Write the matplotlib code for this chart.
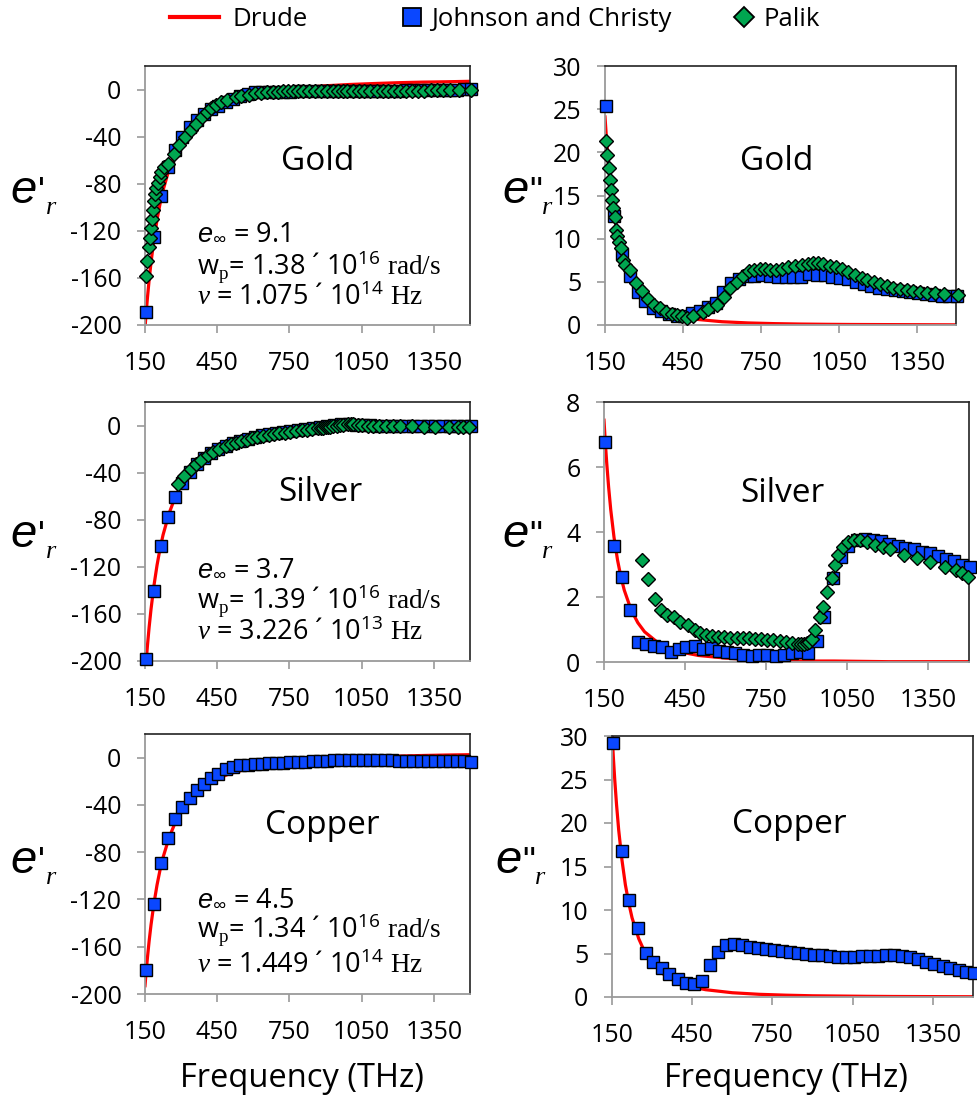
"""
Drude model vs Johnson & Christy / Palik permittivity data for gold, silver and copper
"""

import matplotlib
matplotlib.use("Agg")
import matplotlib.pyplot as plt
from matplotlib.lines import Line2D

plt.rcParams['font.family'] = ['Open Sans', 'DejaVu Sans']
plt.rcParams['axes.unicode_minus'] = False
plt.rcParams['mathtext.fontset'] = 'custom'
plt.rcParams['mathtext.rm'] = 'Open Sans'
plt.rcParams['mathtext.it'] = 'Liberation Sans:italic'
plt.rcParams['mathtext.sf'] = 'Liberation Serif'
plt.rcParams['mathtext.cal'] = 'Liberation Serif:italic'

# ---- data (frequency in THz) ----
drude_freq = [150, 155, 160, 167, 175, 187, 200, 212, 225, 250, 275, 300, 350, 400, 450,
              500, 600, 700, 800, 900, 1000, 1100, 1200, 1300, 1400, 1500]
gold_drude_re = [-202.5, -189.3, -177.2, -162.1, -146.9, -127.7, -110.6, -97.5, -85.6, -67.7,
                 -54.4, -44.3, -30.2, -21.0, -14.7, -10.2, -4.3, -0.7, 1.6, 3.2, 4.3, 5.1,
                 5.8, 6.3, 6.6, 7.0]
gold_drude_im = [24.1, 21.9, 19.9, 17.5, 15.3, 12.5, 10.2, 8.6, 7.2, 5.26, 3.95, 3.05, 1.92,
                 1.29, 0.90, 0.66, 0.38, 0.24, 0.16, 0.11, 0.08, 0.06, 0.05, 0.04, 0.03, 0.02]
silver_drude_re = [-213.5, -199.8, -187.3, -171.6, -156.0, -136.2, -118.6, -105.1, -92.9,
                   -74.6, -61.0, -50.7, -36.2, -26.9, -20.5, -15.9, -9.9, -6.3, -3.9, -2.3,
                   -1.2, -0.3, 0.3, 0.8, 1.2, 1.5]
silver_drude_im = [7.44, 6.74, 6.13, 5.39, 4.68, 3.84, 3.14, 2.64, 2.21, 1.61, 1.21, 0.93,
                   0.59, 0.39, 0.28, 0.20, 0.12, 0.07, 0.05, 0.03, 0.03, 0.02, 0.01, 0.01,
                   0.01, 0.01]
copper_drude_re = [-193.0, -180.7, -169.6, -155.5, -141.5, -123.6, -107.7, -95.5, -84.4,
                   -67.7, -55.2, -45.7, -32.5, -23.8, -17.9, -13.7, -8.1, -4.8, -2.6, -1.1,
                   -0.1, 0.7, 1.3, 1.8, 2.2, 2.5]
copper_drude_im = [30.4, 27.6, 25.1, 22.1, 19.2, 15.8, 12.9, 10.9, 9.1, 6.7, 5.0, 3.9, 2.4,
                   1.6, 1.15, 0.84, 0.49, 0.31, 0.21, 0.14, 0.11, 0.08, 0.06, 0.05, 0.04, 0.03]

jc_freq = [155, 186, 215, 247, 276, 305, 336, 365, 397, 426, 455, 486, 515, 546, 576, 605,
           636, 665, 696, 725, 754, 786, 815, 846, 875, 904, 936, 965, 996, 1025, 1054, 1086,
           1115, 1146, 1175, 1204, 1236, 1265, 1296, 1325, 1354, 1386, 1415, 1446, 1475, 1504]
gold_jc_re = [-189.0, -125.3, -90.4, -66.2, -51.0, -40.3, -32.0, -25.8, -20.6, -16.8, -13.6,
              -10.7, -8.1, -5.8, -4.0, -2.3, -1.7, -1.8, -1.7, -1.7, -1.7, -1.6, -1.4, -1.2,
              -1.3, -1.4, -1.2, -1.2, -1.2, -1.3, -1.3, -1.4, -1.3, -1.2, -1.1, -0.9, -0.7,
              -0.6, -0.6, -0.4, -0.4, -0.2, -0.1, 0.0, 0.1, 0.2]
gold_jc_im = [25.4, 12.6, 8.2, 5.7, 3.86, 2.79, 1.93, 1.63, 1.27, 1.07, 1.04, 1.37, 1.66,
              2.11, 2.58, 3.81, 4.84, 5.28, 5.65, 5.72, 5.74, 5.64, 5.61, 5.60, 5.54, 5.57,
              5.85, 5.79, 5.78, 5.60, 5.49, 5.28, 4.98, 4.72, 4.49, 4.34, 4.16, 4.06, 3.89,
              3.83, 3.71, 3.61, 3.51, 3.39, 3.40, 3.33]
silver_jc_re = [-198.2, -140.4, -102.0, -77.9, -60.8, -48.9, -39.8, -32.8, -27.5, -23.4,
                -20.1, -17.2, -14.9, -12.9, -11.1, -9.6, -8.2, -7.1, -6.1, -5.2, -4.3, -3.5,
                -2.7, -2.0, -1.3, -0.7, 0.5, 0.9, 0.9, 0.6, 0.4, 0.2, 0.0, -0.1, -0.2, -0.2,
                -0.2, -0.2, -0.2, -0.2, -0.2, -0.3, -0.3, -0.3, -0.4, -0.3]
silver_jc_im = [6.76, 3.56, 2.63, 1.59, 0.62, 0.56, 0.50, 0.46, 0.31, 0.39, 0.45, 0.50, 0.39,
                0.43, 0.33, 0.31, 0.29, 0.21, 0.20, 0.23, 0.21, 0.19, 0.23, 0.28, 0.32, 0.28,
                0.64, 1.39, 2.58, 3.23, 3.56, 3.75, 3.79, 3.74, 3.71, 3.64, 3.58, 3.50, 3.47,
                3.39, 3.36, 3.26, 3.18, 3.10, 2.98, 2.91]
copper_jc_re = [-180.0, -124.0, -89.0, -68.0, -52.0, -42.0, -34.0, -27.0, -22.0, -17.5,
                -13.5, -10.0, -7.5, -6.5, -6.0, -5.6, -5.2, -4.9, -4.6, -4.3, -4.0, -3.7,
                -3.4, -3.1, -2.9, -2.6, -2.4, -2.2, -2.0, -1.9, -1.8, -1.9, -2.0, -2.2, -2.4,
                -2.6, -2.8, -2.9, -3.0, -3.0, -3.0, -3.1, -3.1, -3.2, -3.2, -3.3]
copper_jc_im = [29.2, 16.8, 11.2, 7.9, 5.1, 4.0, 3.35, 2.6, 2.05, 1.6, 1.45, 1.8, 3.7, 5.2,
                5.95, 6.1, 6.0, 5.8, 5.6, 5.5, 5.4, 5.3, 5.2, 5.05, 4.9, 4.8, 4.8, 4.7, 4.6,
                4.55, 4.6, 4.7, 4.75, 4.75, 4.85, 4.85, 4.75, 4.55, 4.35, 4.05, 3.8, 3.55,
                3.3, 3.1, 2.9, 2.75]

gold_palik_freq = [154, 159, 165, 169, 173, 177, 182, 187, 192, 197, 204, 212, 218, 227, 246,
                   269, 291, 317, 340, 362, 385, 407, 426, 446, 467, 490, 528, 548, 580, 606,
                   632, 657, 680, 702, 722, 745, 765, 785, 808, 830, 855, 881, 907, 932, 951,
                   971, 990, 1015, 1038, 1060, 1086, 1112, 1137, 1159, 1185, 1208, 1233, 1259,
                   1285, 1310, 1336, 1362, 1387, 1419, 1454, 1506]
gold_palik_re = [-158, -146, -134, -126, -118, -110, -102, -95, -89, -84, -79, -74, -70, -66,
                 -63, -55, -47, -40, -34, -29, -23, -19, -16, -13, -10.5, -9, -6.5, -5.5,
                 -4.3, -3.3, -2.6, -2.2, -1.9, -1.7, -1.6, -1.6, -1.6, -1.6, -1.6, -1.6, -1.6,
                 -1.6, -1.6, -1.5, -1.5, -1.5, -1.5, -1.5, -1.5, -1.5, -1.5, -1.4, -1.4, -1.3,
                 -1.3, -1.2, -1.1, -1.0, -0.9, -0.9, -0.8, -0.7, -0.6, -0.5, -0.4, -0.3]
gold_palik_im = [21.3, 19.7, 18.2, 16.8, 15.6, 14.5, 13.6, 12.5, 11.0, 10.3, 9.65, 8.9, 7.5,
                 6.95, 6.4, 4.9, 3.9, 3.0, 2.3, 1.93, 1.54, 1.27, 1.16, 1.04, 0.85, 1.0, 1.54,
                 1.8, 2.3, 3.3, 4.3, 5.0, 5.7, 6.2, 6.4, 6.45, 6.45, 6.4, 6.4, 6.45, 6.68,
                 6.83, 6.95, 7.07, 7.2, 7.14, 7.07, 6.83, 6.68, 6.45, 6.18, 5.79, 5.48, 5.21,
                 4.94, 4.71, 4.52, 4.32, 4.17, 4.05, 3.94, 3.82, 3.75, 3.67, 3.59, 3.44]

silver_palik_freq = [289, 314, 339, 361, 382, 410, 432, 459, 485, 506, 528, 548, 573, 594,
                     616, 641, 663, 686, 708, 731, 754, 776, 801, 823, 845, 869, 880, 890,
                     900, 910, 918, 930, 949, 959, 974, 993, 1004, 1016, 1035, 1053, 1075,
                     1097, 1121, 1152, 1181, 1208, 1259, 1309, 1356, 1411, 1452, 1473, 1497]
silver_palik_re = [-50, -43, -37, -32.5, -29, -25, -22.5, -20, -17.5, -16, -14.5, -13.3, -12,
                   -11, -10, -9, -8.2, -7.4, -6.7, -6, -5.4, -4.8, -4.2, -3.6, -3.1, -2.5,
                   -2.2, -1.9, -1.6, -1.3, -1.0, -0.6, 0.0, 0.4, 0.8, 1.0, 1.0, 0.9, 0.6, 0.3,
                   0.0, -0.2, -0.4, -0.5, -0.6, -0.7, -0.8, -0.9, -1.0, -1.1, -1.2, -1.2, -1.3]
silver_palik_im = [3.14, 2.54, 1.94, 1.6, 1.45, 1.37, 1.24, 1.14, 0.98, 0.88, 0.83, 0.79,
                   0.77, 0.76, 0.75, 0.75, 0.74, 0.73, 0.72, 0.71, 0.69, 0.67, 0.64, 0.61,
                   0.59, 0.56, 0.55, 0.55, 0.57, 0.62, 0.72, 0.98, 1.39, 1.7, 2.16, 2.57, 2.98,
                   3.29, 3.55, 3.7, 3.75, 3.75, 3.7, 3.6, 3.55, 3.47, 3.3, 3.19, 3.07, 2.93,
                   2.82, 2.73, 2.63]

x_ticks = [150, 450, 750, 1050, 1350]
re_ticks = [0, -40, -80, -120, -160, -200]

W, H = 978, 1101
RED = '#ff0000'
BLUE = '#0a47ff'
GREEN = '#00a650'
GREY = '#9a9a9a'


def box(l, t, r, b):
    return [l / W, 1 - b / H, (r - l) / W, (b - t) / H]


def fpx(x, y):
    return x / W, 1 - y / H


def style_axes(ax, ylim, yticks):
    ax.set_xlim(150, 1500)
    ax.set_ylim(*ylim)
    ax.set_xticks(x_ticks)
    ax.set_yticks(yticks)
    for side in ['left', 'bottom']:
        ax.spines[side].set_color(GREY)
        ax.spines[side].set_linewidth(1.3)
    for side in ['top', 'right']:
        ax.spines[side].set_color('#222222')
        ax.spines[side].set_linewidth(1.2)
    ax.tick_params(direction='out', length=6, width=1.2, color=GREY, labelsize=18)
    ax.tick_params(axis='x', pad=13)
    ax.tick_params(axis='y', pad=11)


def draw_panel(ax, drude, jc, palik=None, palik_freq=None):
    ax.plot(drude_freq, drude, color=RED, lw=2.3, zorder=2)
    ax.plot(jc_freq, jc, ls='none', marker='s', ms=8.5, mfc=BLUE, mec='black',
            mew=1.0, clip_on=False, zorder=3)
    if palik is not None:
        ax.plot(palik_freq, palik, ls='none', marker='D', ms=7, mfc=GREEN, mec='black',
                mew=1.0, clip_on=False, zorder=4)


def ylab(x_e, base, double):
    # e'_r  /  e''_r label, drawn as pieces like the original
    fig.text(*fpx(x_e, base), 'e', fontsize=34, family='Liberation Sans', style='italic',
             ha='left', va='baseline')
    mark = '"' if double else "'"
    dx_mark = 27 if double else 28
    dx_r = 40 if double else 36
    fig.text(*fpx(x_e + dx_mark, base), mark, fontsize=26, family='Liberation Sans',
             ha='left', va='baseline')
    fig.text(*fpx(x_e + dx_r, base + 11), 'r', fontsize=19, family='Liberation Serif',
             style='italic', ha='left', va='baseline')


def params_text(ax, ypos, e_inf, wp, nu, nu_exp):
    lines = [r"$\mathit{e}_{\infty}$ = " + e_inf,
             r"w$_{\mathsf{p}}$= " + wp + r" ´ 10$^{16}$ $\mathsf{rad/s}$",
             r"$\mathcal{v}$ = " + nu + r" ´ 10$^{" + nu_exp + r"}$ $\mathsf{Hz}$"]
    for txt, y in zip(lines, ypos):
        ax.text(0.16, y, txt, transform=ax.transAxes, fontsize=19.5, ha='left', va='center')


fig = plt.figure(figsize=(W / 100, H / 100), dpi=100)

panels = {
    'gold_re': box(145, 66, 470, 325),
    'gold_im': box(605, 66, 956, 325),
    'silver_re': box(145, 402, 470, 661),
    'silver_im': box(604, 402, 969, 662),
    'copper_re': box(145, 734, 470, 994),
    'copper_im': box(612, 736, 973, 997),
}

# gold
ax = fig.add_axes(panels['gold_re'])
draw_panel(ax, gold_drude_re, gold_jc_re, gold_palik_re, gold_palik_freq)
style_axes(ax, (-200, 20), re_ticks)
ax.text(0.53, 0.63, 'Gold', transform=ax.transAxes, fontsize=24, ha='center', va='center')
params_text(ax, [0.36, 0.225, 0.105], '9.1', '1.38', '1.075', '14')

ax = fig.add_axes(panels['gold_im'])
draw_panel(ax, gold_drude_im, gold_jc_im, gold_palik_im, gold_palik_freq)
style_axes(ax, (0, 30), [0, 5, 10, 15, 20, 25, 30])
ax.text(0.49, 0.63, 'Gold', transform=ax.transAxes, fontsize=24, ha='center', va='center')

# silver
ax = fig.add_axes(panels['silver_re'])
draw_panel(ax, silver_drude_re, silver_jc_re, silver_palik_re, silver_palik_freq)
style_axes(ax, (-200, 20), re_ticks)
ax.text(0.54, 0.65, 'Silver', transform=ax.transAxes, fontsize=24, ha='center', va='center')
params_text(ax, [0.363, 0.235, 0.108], '3.7', '1.39', '3.226', '13')

ax = fig.add_axes(panels['silver_im'])
draw_panel(ax, silver_drude_im, silver_jc_im, silver_palik_im, silver_palik_freq)
style_axes(ax, (0, 8), [0, 2, 4, 6, 8])
ax.text(0.49, 0.65, 'Silver', transform=ax.transAxes, fontsize=24, ha='center', va='center')

# copper
ax = fig.add_axes(panels['copper_re'])
draw_panel(ax, copper_drude_re, copper_jc_re)
style_axes(ax, (-200, 20), re_ticks)
ax.text(0.545, 0.65, 'Copper', transform=ax.transAxes, fontsize=24, ha='center', va='center')
params_text(ax, [0.37, 0.246, 0.11], '4.5', '1.34', '1.449', '14')
ax.set_xlabel('Frequency (THz)', fontsize=23.5, va='top')
ax.xaxis.set_label_coords(*fpx(302, 1062), transform=fig.transFigure)

ax = fig.add_axes(panels['copper_im'])
draw_panel(ax, copper_drude_im, copper_jc_im)
style_axes(ax, (0, 30), [0, 5, 10, 15, 20, 25, 30])
ax.text(0.49, 0.66, 'Copper', transform=ax.transAxes, fontsize=24, ha='center', va='center')
ax.set_xlabel('Frequency (THz)', fontsize=23.5, va='top')
ax.xaxis.set_label_coords(*fpx(786, 1062), transform=fig.transFigure)

# y labels
ylab(10, 203, False)
ylab(502, 203, True)
ylab(10, 547, False)
ylab(502, 547, True)
ylab(10, 873, False)
ylab(495, 873, True)

# legend (two pieces so the line handle can be longer than the marker handles)
h_drude = Line2D([], [], color=RED, lw=3)
h_jc = Line2D([], [], ls='none', marker='s', ms=12.5, mfc=BLUE, mec='black', mew=1.3)
h_palik = Line2D([], [], ls='none', marker='D', ms=10.5, mfc=GREEN, mec='black', mew=1.3)
fig.legend([h_drude], ['Drude'], loc='center left', bbox_to_anchor=fpx(170, 19),
           frameon=False, fontsize=18.5, handlelength=1.9, handletextpad=0.55,
           borderpad=0, borderaxespad=0)
fig.legend([h_jc, h_palik], ['Johnson and Christy', 'Palik'], loc='center left',
           bbox_to_anchor=fpx(400, 19), ncol=2, frameon=False, fontsize=18.5,
           handlelength=0.9, handletextpad=0.3, columnspacing=2.4,
           borderpad=0, borderaxespad=0)

fig.savefig('out.png', dpi=100)
